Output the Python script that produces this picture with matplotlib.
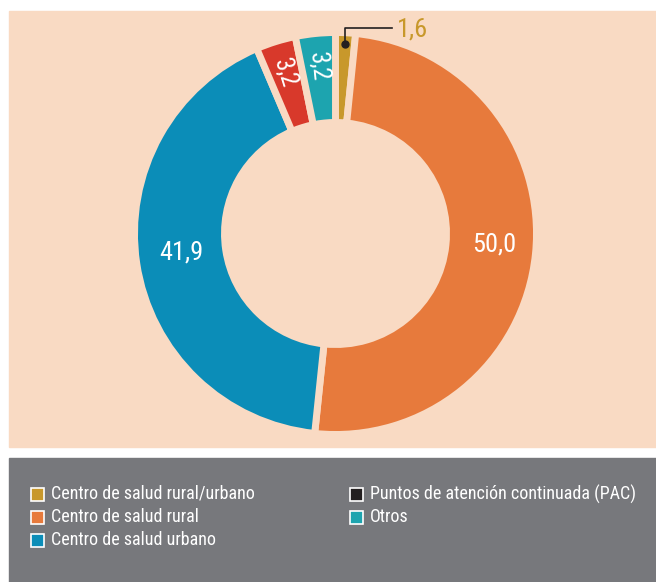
import numpy as np
import matplotlib
matplotlib.use('Agg')
import matplotlib.pyplot as plt
from matplotlib.patches import Rectangle
from matplotlib import font_manager

# data (percent)
slice_labels = ['Centro de salud rural/urbano', 'Centro de salud rural',
                'Centro de salud urbano', 'Puntos de atención continuada (PAC)', 'Otros']
slice_values = [1.6, 50.0, 41.9, 3.2, 3.2]
slice_texts = ['1,6', '50,0', '41,9', '3,2', '3,2']
slice_colors = ['#C8982B', '#E77A3C', '#0B8DB8', '#D8392B', '#1DA4AF']

legend_labels = ['Centro de salud rural/urbano', 'Centro de salud rural', 'Centro de salud urbano',
                 'Puntos de atención continuada (PAC)', 'Otros']
legend_colors = ['#C8982B', '#E77A3C', '#0B8DB8', '#231F20', '#1DA4AF']

peach = '#F9DAC3'
gray = '#77787C'

# pick the narrowest installed family
names = set(f.name for f in font_manager.fontManager.ttflist)
font = 'DejaVu Sans'
for cand in ['Roboto Condensed', 'Liberation Sans Narrow', 'Open Sans Condensed', 'Roboto']:
    if cand in names:
        font = cand
        break
condensed = font in ('Roboto Condensed', 'Liberation Sans Narrow', 'Open Sans Condensed')
plt.rcParams['font.family'] = [font, 'DejaVu Sans']
big = 19 if condensed else 17
leg = 13 if condensed else 10.5

W, H = 656, 582
fig = plt.figure(figsize=(W / 100, H / 100), dpi=100)
ax = fig.add_axes([0, 0, 1, 1])

# background panels
ax.add_patch(Rectangle((9, H - 447), W - 9, 447 - 11, color=peach, zorder=0))
ax.add_patch(Rectangle((9, 0), W - 9, H - 458, color=gray, zorder=0))

cx, cy = 335.5, H - 233.5
R = 201
ring = 90
ax.pie(slice_values, colors=slice_colors, startangle=90, counterclock=False,
       radius=R, center=(cx, cy),
       wedgeprops=dict(width=ring, edgecolor=peach, linewidth=5.0))

# value labels
total = sum(slice_values)
cum = np.cumsum(slice_values)
for i, v in enumerate(slice_values):
    mid = (cum[i] - v / 2) / total * 360
    th = np.radians(90 - mid)
    if v < 2:
        px, py = cx + 190 * np.cos(th), cy + 190 * np.sin(th)
        ax.plot([px], [py], 'o', color='#231F20', ms=5, zorder=5)
        ax.plot([px, px, 392], [py, H - 28, H - 28], color='#231F20', lw=1.2, zorder=5)
        ax.text(397, H - 29, slice_texts[i], color=slice_colors[i], fontsize=big,
                ha='left', va='center')
    elif v < 10:
        r = 168
        ax.text(cx + r * np.cos(th), cy + r * np.sin(th), slice_texts[i], color='white',
                fontsize=big - 1, ha='center', va='center', rotation=np.degrees(th) - 180,
                rotation_mode='anchor')
    else:
        r = 158
        ax.text(cx + r * np.cos(th) + 2, cy + r * np.sin(th) + 5, slice_texts[i], color='white',
                fontsize=big, ha='center', va='center')

# legend
rows = [494, 517, 540]
for i, (lab, col) in enumerate(zip(legend_labels, legend_colors)):
    if i < 3:
        x0, y0 = 31, rows[i]
    else:
        x0, y0 = 350, rows[i - 3]
    ax.add_patch(Rectangle((x0, H - y0 - 6.5), 13, 13, facecolor=col,
                           edgecolor='white', lw=1.2, zorder=3))
    ax.text(x0 + 20, H - y0, lab, color='white', fontsize=leg, ha='left', va='center')

ax.set_xlim(0, W)
ax.set_ylim(0, H)
ax.set_aspect('auto')
ax.axis('off')
fig.savefig('out.png', dpi=100, facecolor='white')
